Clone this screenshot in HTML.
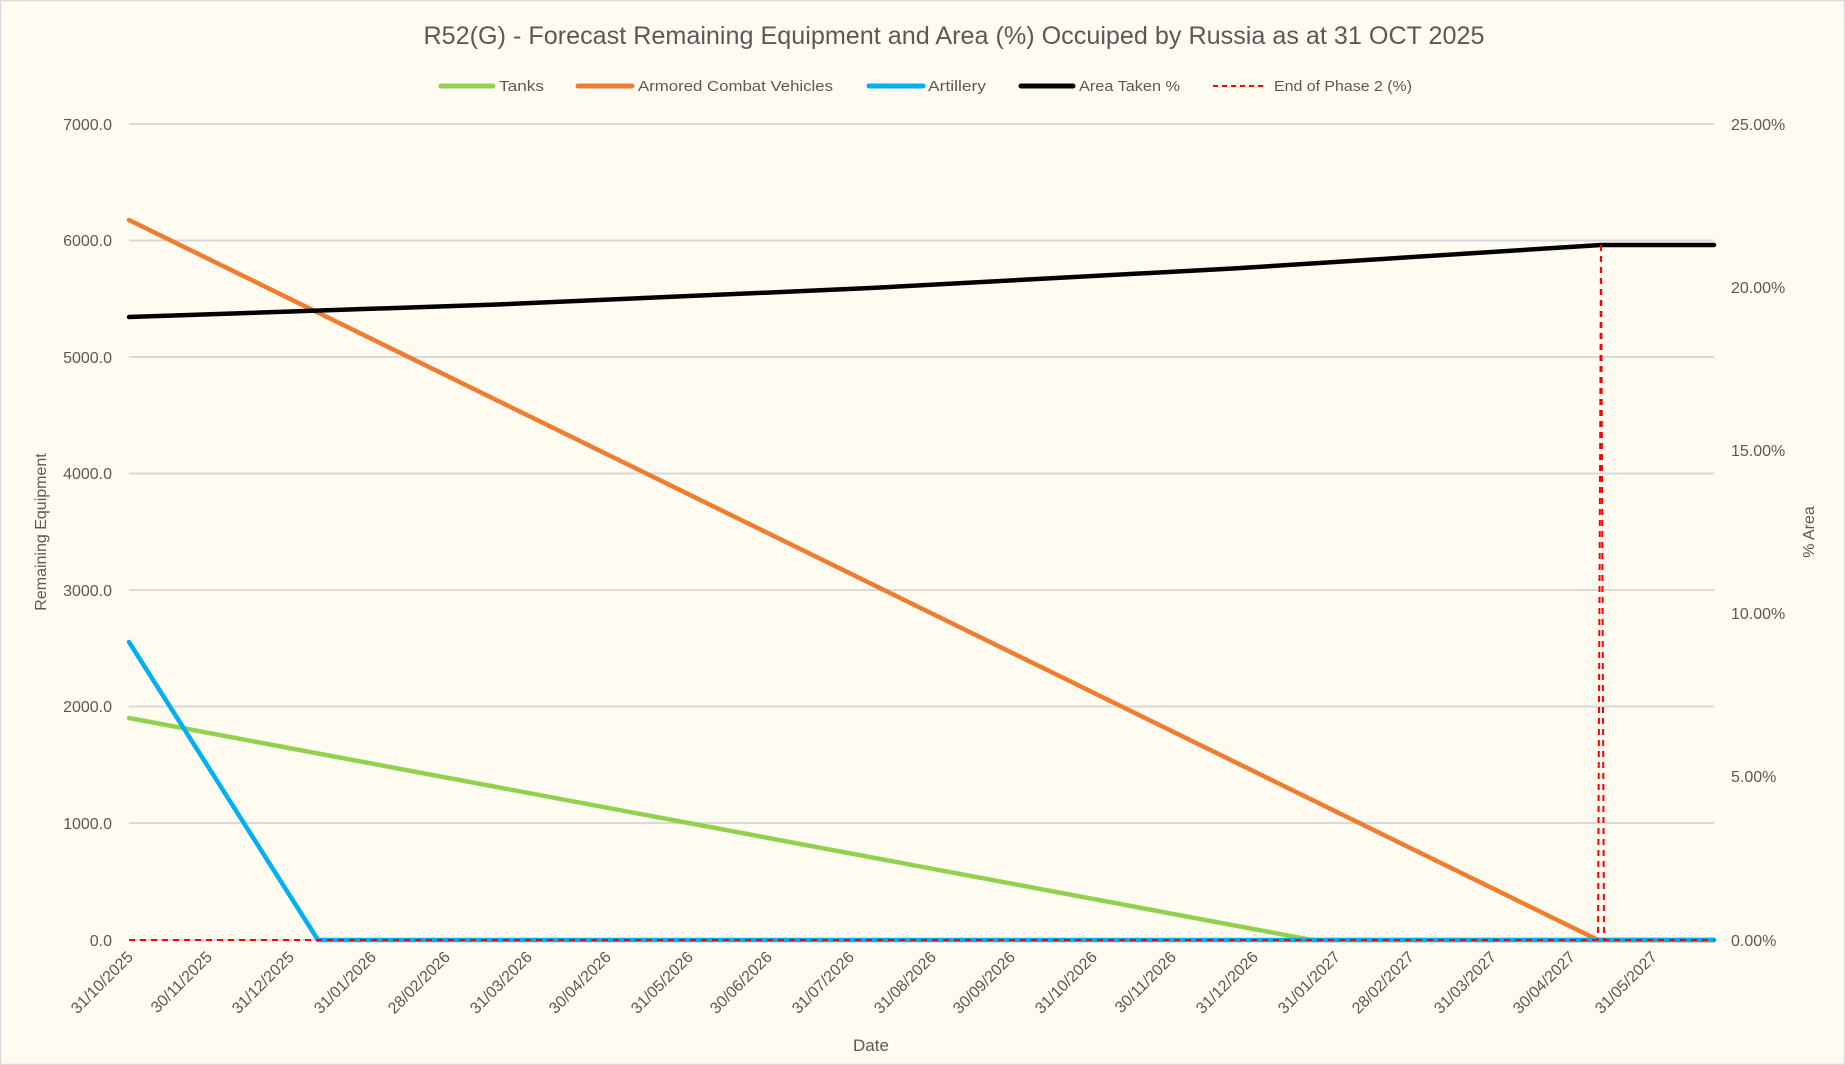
<!DOCTYPE html>
<html><head><meta charset="utf-8"><style>
html,body{margin:0;padding:0;background:#fffbf0;}
svg{display:block;font-family:"Liberation Sans",sans-serif;}
</style></head><body>
<svg width="1845" height="1065" viewBox="0 0 1845 1065" xmlns="http://www.w3.org/2000/svg">
<rect x="0.5" y="0.5" width="1844" height="1064" fill="#fffbf0" stroke="#d9d9d9" stroke-width="1.5"/>
<text x="954" y="44" text-anchor="middle" font-size="25" fill="#595959" textLength="1061" lengthAdjust="spacingAndGlyphs">R52(G) - Forecast Remaining Equipment and Area (%) Occuiped by Russia as at 31 OCT 2025</text>
<!-- legend -->
<g font-size="15" fill="#595959">
<line x1="441" y1="86" x2="493" y2="86" stroke="#92d050" stroke-width="5" stroke-linecap="round"/>
<text x="499" y="91" textLength="45" lengthAdjust="spacingAndGlyphs">Tanks</text>
<line x1="578" y1="86" x2="632" y2="86" stroke="#ed7d31" stroke-width="5" stroke-linecap="round"/>
<text x="638" y="91" textLength="195" lengthAdjust="spacingAndGlyphs">Armored Combat Vehicles</text>
<line x1="869" y1="86" x2="923" y2="86" stroke="#00b0f0" stroke-width="5" stroke-linecap="round"/>
<text x="928" y="91" textLength="58" lengthAdjust="spacingAndGlyphs">Artillery</text>
<line x1="1021" y1="86" x2="1073" y2="86" stroke="#000" stroke-width="5" stroke-linecap="round"/>
<text x="1079" y="91" textLength="101" lengthAdjust="spacingAndGlyphs">Area Taken %</text>
<line x1="1213" y1="86" x2="1264" y2="86" stroke="#ff0000" stroke-width="2" stroke-dasharray="5,4"/>
<text x="1274" y="91" textLength="138" lengthAdjust="spacingAndGlyphs">End of Phase 2 (%)</text>
</g>
<!-- grid -->
<g stroke="#d9d9d9" stroke-width="2">
<line x1="129" y1="124" x2="1714" y2="124"/>
<line x1="129" y1="240.5" x2="1714" y2="240.5"/>
<line x1="129" y1="357" x2="1714" y2="357"/>
<line x1="129" y1="473.5" x2="1714" y2="473.5"/>
<line x1="129" y1="590" x2="1714" y2="590"/>
<line x1="129" y1="706.5" x2="1714" y2="706.5"/>
<line x1="129" y1="823" x2="1714" y2="823"/>
<line x1="129" y1="940" x2="1714" y2="940"/>
</g>
<!-- left labels -->
<g font-size="16" fill="#595959" text-anchor="end">
<text x="112" y="130">7000.0</text>
<text x="112" y="246">6000.0</text>
<text x="112" y="363">5000.0</text>
<text x="112" y="479">4000.0</text>
<text x="112" y="596">3000.0</text>
<text x="112" y="712">2000.0</text>
<text x="112" y="829">1000.0</text>
<text x="112" y="946">0.0</text>
</g>
<!-- right labels -->
<g font-size="16" fill="#595959">
<text x="1731" y="130">25.00%</text>
<text x="1731" y="293">20.00%</text>
<text x="1731" y="456">15.00%</text>
<text x="1731" y="619">10.00%</text>
<text x="1731" y="782">5.00%</text>
<text x="1731" y="946">0.00%</text>
</g>
<text transform="translate(46,532) rotate(-90)" text-anchor="middle" font-size="16" fill="#595959">Remaining Equipment</text>
<text transform="translate(1814,532) rotate(-90)" text-anchor="middle" font-size="16" fill="#595959">% Area</text>
<text x="871" y="1051" text-anchor="middle" font-size="17" fill="#595959">Date</text>
<!-- x labels -->
<g font-size="16" fill="#595959" text-anchor="end">
<text transform="translate(134,958) rotate(-45)">31/10/2025</text>
<text transform="translate(213,958) rotate(-45)">30/11/2025</text>
<text transform="translate(295,958) rotate(-45)">31/12/2025</text>
<text transform="translate(377,958) rotate(-45)">31/01/2026</text>
<text transform="translate(451,958) rotate(-45)">28/02/2026</text>
<text transform="translate(533,958) rotate(-45)">31/03/2026</text>
<text transform="translate(612,958) rotate(-45)">30/04/2026</text>
<text transform="translate(694,958) rotate(-45)">31/05/2026</text>
<text transform="translate(773,958) rotate(-45)">30/06/2026</text>
<text transform="translate(855,958) rotate(-45)">31/07/2026</text>
<text transform="translate(937,958) rotate(-45)">31/08/2026</text>
<text transform="translate(1016,958) rotate(-45)">30/09/2026</text>
<text transform="translate(1098,958) rotate(-45)">31/10/2026</text>
<text transform="translate(1177,958) rotate(-45)">30/11/2026</text>
<text transform="translate(1259,958) rotate(-45)">31/12/2026</text>
<text transform="translate(1341,958) rotate(-45)">31/01/2027</text>
<text transform="translate(1415,958) rotate(-45)">28/02/2027</text>
<text transform="translate(1497,958) rotate(-45)">31/03/2027</text>
<text transform="translate(1576,958) rotate(-45)">30/04/2027</text>
<text transform="translate(1658,958) rotate(-45)">31/05/2027</text>
</g>
<!-- series -->
<g fill="none" stroke-linecap="round" stroke-linejoin="round">
<polyline points="129,718 1312,940 1714,940" stroke="#92d050" stroke-width="4.5"/>
<polyline points="129,220 1598,940 1714,940" stroke="#ed7d31" stroke-width="4.5"/>
<polyline points="129,642 318,940 1714,940" stroke="#00b0f0" stroke-width="4.5"/>
<polyline points="129,317 497,304.5 865,288.3 1233,268.5 1601,245 1714,245" stroke="#000" stroke-width="4.5"/>
</g>
<g stroke="#ff0000" stroke-width="2" stroke-dasharray="6,5" fill="none">
<line x1="129" y1="940" x2="1714" y2="940"/>
<line x1="1601" y1="245" x2="1598" y2="940"/>
<line x1="1601" y1="245" x2="1604" y2="940"/>
</g>
</svg>
</body></html>
